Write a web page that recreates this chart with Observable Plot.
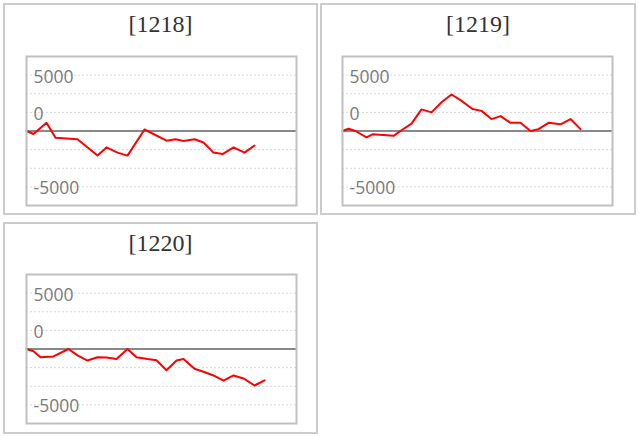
<!DOCTYPE html>
<html>
<head>
<meta charset="utf-8">
<script src="https://cdn.jsdelivr.net/npm/d3@7"></script>
<script src="https://cdn.jsdelivr.net/npm/@observablehq/plot@0.6"></script>
<style>
  html, body { margin: 0; padding: 0; background: #fff; }
  body { width: 639px; height: 437px; position: relative; overflow: hidden; }
  .panel { position: absolute; box-sizing: border-box;
           border: 2px solid #cccccc; background: #fff; }
  .title { height: 40px; line-height: 38px; text-align: center;
           font-family: "Liberation Serif", serif; font-size: 24px; color: #333; }
  .panel svg { display: block; }
</style>
</head>
<body>
<div id="root"></div>
<script>
// Panel titles
const titles = ["[1218]", "[1219]", "[1220]"];

// Series: x = time position (days), y = value
const days1218 = [0, 0.7, 2.0, 2.9, 5.1, 7.1, 8.0, 9.1, 10.1, 11.8, 14.0, 14.9, 15.7, 16.8, 17.7, 18.7, 19.6, 20.7, 21.8, 22.8];
const vals1218 = [0, -400, 1100, -900, -1100, -3300, -2200, -2900, -3300, 200, -1300, -1100, -1350, -1100, -1550, -2900, -3100, -2200, -2900, -1950];

const days1219 = [0, 0.6, 1.3, 2.4, 3.0, 5.1, 5.9, 6.9, 7.9, 8.9, 9.9, 10.9, 11.8, 13.0, 13.9, 14.9, 15.8, 16.8, 17.8, 18.8, 19.6, 20.6, 21.8, 22.8, 23.8];
const vals1219 = [0, 300, 0, -850, -450, -650, 100, 1000, 2900, 2500, 3850, 4900, 4150, 2950, 2700, 1600, 2000, 1100, 1100, 0, 250, 1100, 900, 1600, 250];

const days1220 = [0, 0.7, 1.4, 2.7, 4.2, 5.1, 6.1, 7.1, 8.0, 9.0, 10.1, 11.0, 12.1, 13.0, 14.0, 15.0, 15.7, 16.8, 17.7, 18.7, 19.7, 20.7, 21.7, 22.8, 23.8];
const vals1220 = [0, -300, -1100, -1000, 0, -850, -1550, -1100, -1150, -1350, 0, -1100, -1350, -1500, -2850, -1550, -1350, -2650, -3050, -3550, -4250, -3550, -3950, -4900, -4200];

// Axis settings
const xDomain = [0, 27];
const yDomain = [-10000, 10000];
const gridValues = [-7500, -5000, -2500, 2500, 5000, 7500];
const tickLabels = ["5000", "0", "-5000"];
const tickLabelAt = [7500, 2500, -7500];

const series = [
  {days: days1218, vals: vals1218},
  {days: days1219, vals: vals1219},
  {days: days1220, vals: vals1220}
];

// layout: panel box [left, top, width, height], plot margins
const layout = [
  {box: [3, 3, 315, 212], ml: 21, mr: 20, mt: 11, mb: 8},
  {box: [320, 3, 316, 212], ml: 20, mr: 22, mt: 11, mb: 8},
  {box: [3, 222, 315, 212], ml: 21, mr: 20, mt: 10, mb: 9}
];

const root = document.getElementById("root");
series.forEach((s, i) => {
  const L = layout[i];
  const panel = document.createElement("div");
  panel.className = "panel";
  panel.style.left = L.box[0] + "px";
  panel.style.top = L.box[1] + "px";
  panel.style.width = L.box[2] + "px";
  panel.style.height = L.box[3] + "px";
  const t = document.createElement("div");
  t.className = "title";
  t.textContent = titles[i];
  panel.appendChild(t);

  const data = s.days.map((d, k) => ({x: d, y: s.vals[k]}));
  const labels = tickLabels.map((l, k) => ({label: l, y: tickLabelAt[k]}));

  const chart = Plot.plot({
    width: L.box[2] - 4,
    height: L.box[3] - 4 - 40,
    marginLeft: L.ml,
    marginRight: L.mr,
    marginTop: L.mt,
    marginBottom: L.mb,
    x: {domain: xDomain, axis: null},
    y: {domain: yDomain, axis: null},
    style: {background: "#fff"},
    marks: [
      Plot.ruleY(gridValues, {stroke: "#d8d8d8", strokeDasharray: "2,2", strokeWidth: 1}),
      Plot.text(labels, {y: "y", text: "label", frameAnchor: "left", textAnchor: "start", dx: 7, dy: 2,
        fill: "#7a7a7a", fontSize: 17.5, fontFamily: "Open Sans"}),
      Plot.ruleY([0], {stroke: "#888", strokeWidth: 2}),
      Plot.line(data, {x: "x", y: "y", stroke: "#ff0000", strokeWidth: 2, curve: "linear"}),
      Plot.frame({stroke: "#c0c0c0", strokeWidth: 2})
    ]
  });
  panel.appendChild(chart);
  root.appendChild(panel);
});
</script>
</body>
</html>
